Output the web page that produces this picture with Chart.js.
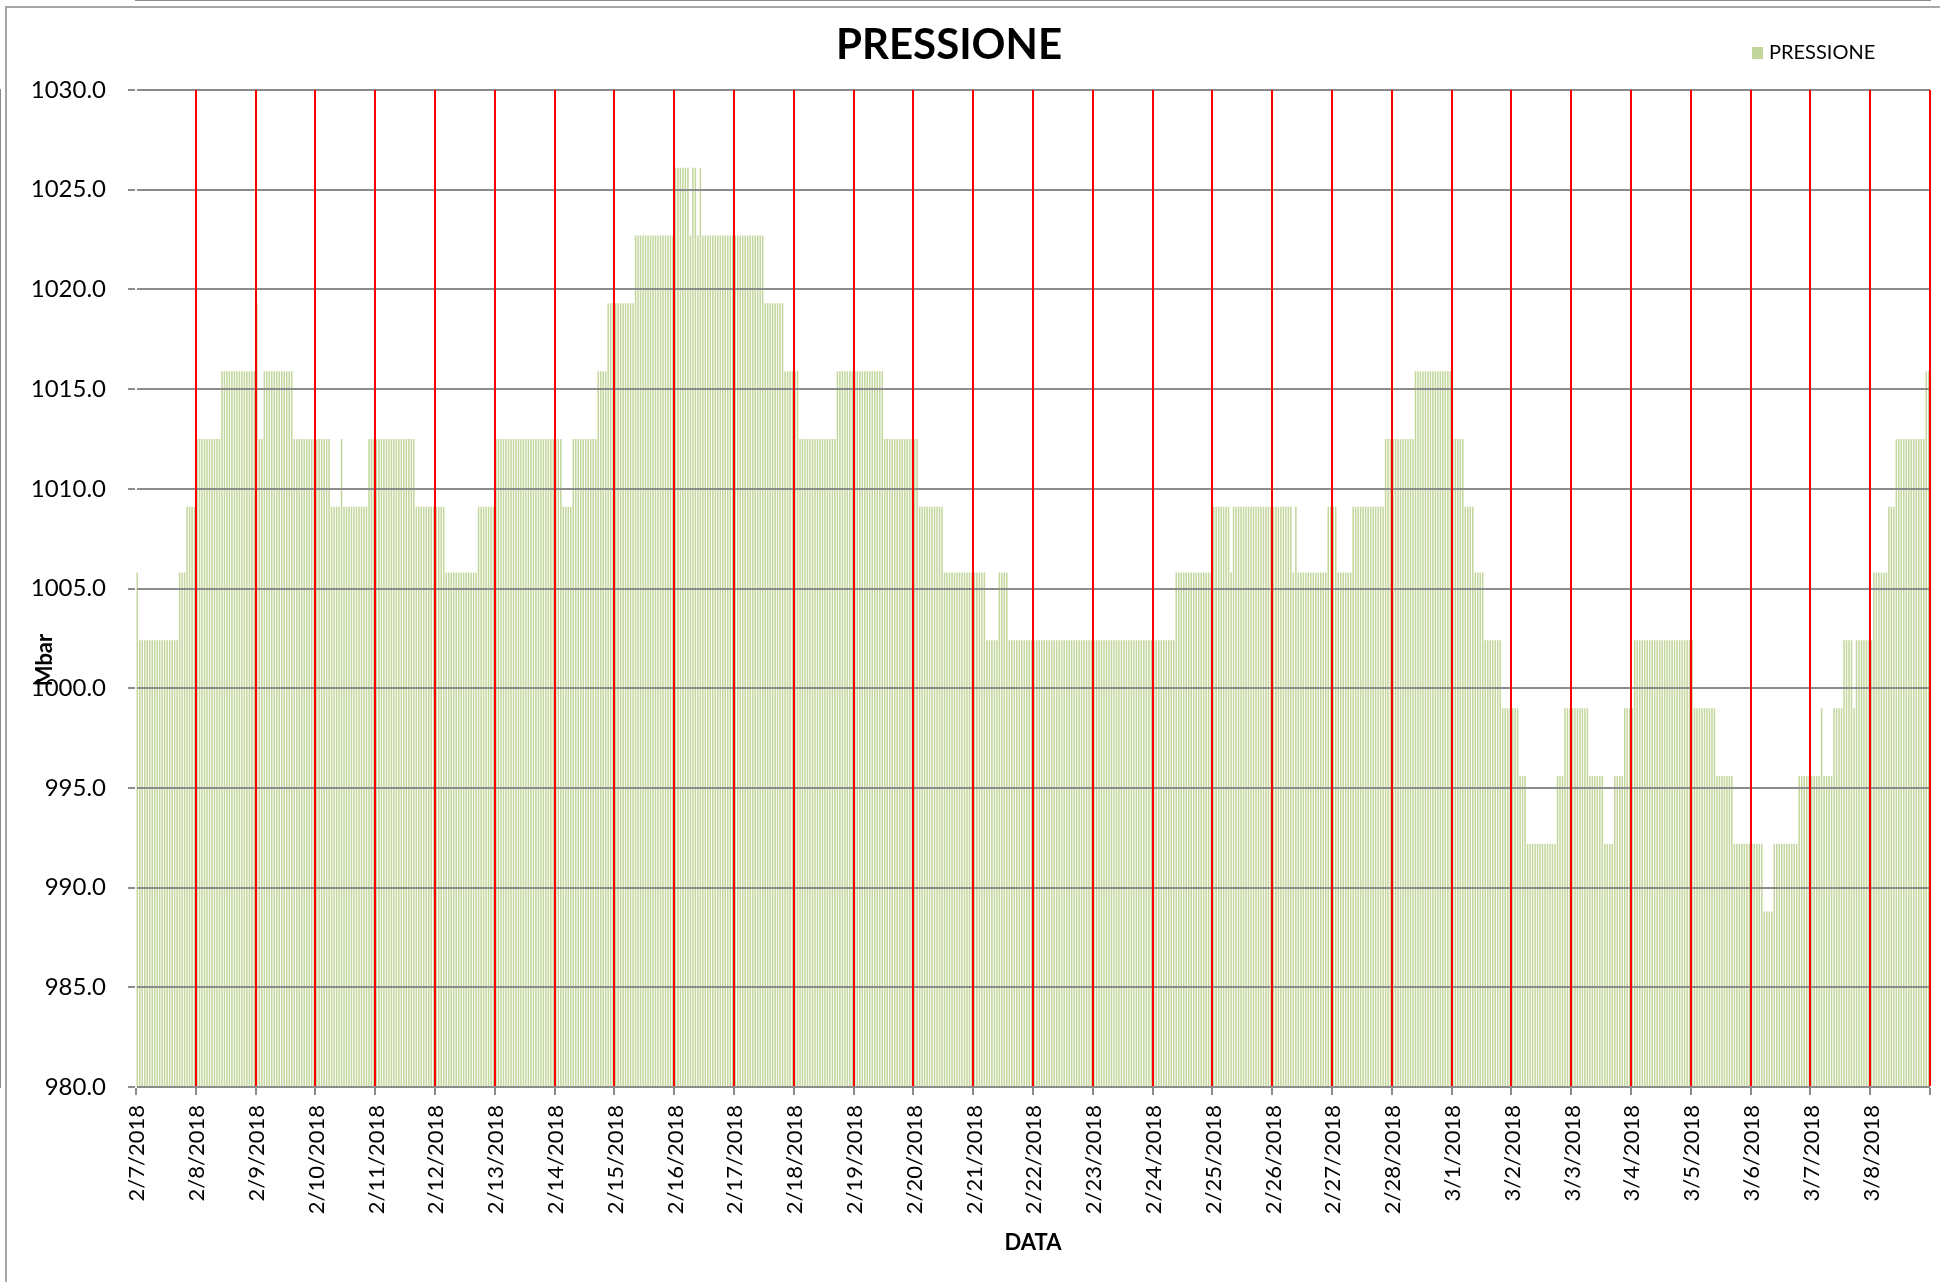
<!DOCTYPE html>
<html>
<head>
<meta charset="utf-8">
<title>PRESSIONE</title>
<script src="https://cdn.jsdelivr.net/npm/chart.js@4.4.1/dist/chart.umd.min.js"></script>
<style>
  html, body { margin: 0; padding: 0; background: #fff; overflow: hidden; }
  #wrap { position: relative; width: 1940px; height: 1282px; }
  #cornice { position: absolute; left: 5px; top: 6px; width: 2000px; height: 2000px;
             border-left: 2px solid #a6a6a6; border-top: 2px solid #a6a6a6; }
  #grafico { position: absolute; left: 0; top: 0; }
</style>
</head>
<body>
<div id="wrap">
  <div id="cornice"></div>
  <canvas id="grafico" width="1940" height="1282"></canvas>
</div>
<script>
// giorni sull'asse X (24 letture orarie per giorno)
const giorni = ['2/7/2018', '2/8/2018', '2/9/2018', '2/10/2018', '2/11/2018', '2/12/2018',
  '2/13/2018', '2/14/2018', '2/15/2018', '2/16/2018', '2/17/2018', '2/18/2018', '2/19/2018',
  '2/20/2018', '2/21/2018', '2/22/2018', '2/23/2018', '2/24/2018', '2/25/2018', '2/26/2018',
  '2/27/2018', '2/28/2018', '3/1/2018', '3/2/2018', '3/3/2018', '3/4/2018', '3/5/2018',
  '3/6/2018', '3/7/2018', '3/8/2018'];

// tacche asse Y (Mbar)
const tacceY = [980, 985, 990, 995, 1000, 1005, 1010, 1015, 1020, 1025, 1030];

// pressione oraria (Mbar), una riga per giorno
const pressioneGiorni = [
  [1005.8,1002.4,1002.4,1002.4,1002.4,1002.4,1002.4,1002.4,1002.4,1002.4,1002.4,1002.4,1002.4,1002.4,1002.4,1002.4,1002.4,1005.8,1005.8,1005.8,1009.1,1009.1,1009.1,1009.1],
  [1012.5,1012.5,1012.5,1012.5,1012.5,1012.5,1012.5,1012.5,1012.5,1012.5,1015.9,1015.9,1015.9,1015.9,1015.9,1015.9,1015.9,1015.9,1015.9,1015.9,1015.9,1015.9,1015.9,1015.9],
  [1019.3,1012.5,1012.5,1015.9,1015.9,1015.9,1015.9,1015.9,1015.9,1015.9,1015.9,1015.9,1015.9,1015.9,1015.9,1012.5,1012.5,1012.5,1012.5,1012.5,1012.5,1012.5,1012.5,1012.5],
  [1012.5,1012.5,1012.5,1012.5,1012.5,1012.5,1009.1,1009.1,1009.1,1009.1,1012.5,1009.1,1009.1,1009.1,1009.1,1009.1,1009.1,1009.1,1009.1,1009.1,1009.1,1012.5,1012.5,1012.5],
  [1012.5,1012.5,1012.5,1012.5,1012.5,1012.5,1012.5,1012.5,1012.5,1012.5,1012.5,1012.5,1012.5,1012.5,1012.5,1012.5,1009.1,1009.1,1009.1,1009.1,1009.1,1009.1,1009.1,1009.1],
  [1009.1,1009.1,1009.1,1009.1,1005.8,1005.8,1005.8,1005.8,1005.8,1005.8,1005.8,1005.8,1005.8,1005.8,1005.8,1005.8,1005.8,1009.1,1009.1,1009.1,1009.1,1009.1,1009.1,1009.1],
  [1012.5,1012.5,1012.5,1012.5,1012.5,1012.5,1012.5,1012.5,1012.5,1012.5,1012.5,1012.5,1012.5,1012.5,1012.5,1012.5,1012.5,1012.5,1012.5,1012.5,1012.5,1012.5,1012.5,1012.5],
  [1012.5,1012.5,1012.5,1009.1,1009.1,1009.1,1009.1,1012.5,1012.5,1012.5,1012.5,1012.5,1012.5,1012.5,1012.5,1012.5,1012.5,1015.9,1015.9,1015.9,1015.9,1019.3,1019.3,1019.3],
  [1019.3,1019.3,1019.3,1019.3,1019.3,1019.3,1019.3,1019.3,1022.7,1022.7,1022.7,1022.7,1022.7,1022.7,1022.7,1022.7,1022.7,1022.7,1022.7,1022.7,1022.7,1022.7,1022.7,1022.7],
  [1026.1,1026.1,1026.1,1026.1,1026.1,1026.1,1022.7,1026.1,1026.1,1022.7,1026.1,1022.7,1022.7,1022.7,1022.7,1022.7,1022.7,1022.7,1022.7,1022.7,1022.7,1022.7,1022.7,1022.7],
  [1022.7,1022.7,1022.7,1022.7,1022.7,1022.7,1022.7,1022.7,1022.7,1022.7,1022.7,1022.7,1019.3,1019.3,1019.3,1019.3,1019.3,1019.3,1019.3,1019.3,1015.9,1015.9,1015.9,1015.9],
  [1015.9,1015.9,1012.5,1012.5,1012.5,1012.5,1012.5,1012.5,1012.5,1012.5,1012.5,1012.5,1012.5,1012.5,1012.5,1012.5,1012.5,1015.9,1015.9,1015.9,1015.9,1015.9,1015.9,1015.9],
  [1015.9,1015.9,1015.9,1015.9,1015.9,1015.9,1015.9,1015.9,1015.9,1015.9,1015.9,1015.9,1012.5,1012.5,1012.5,1012.5,1012.5,1012.5,1012.5,1012.5,1012.5,1012.5,1012.5,1012.5],
  [1012.5,1012.5,1009.1,1009.1,1009.1,1009.1,1009.1,1009.1,1009.1,1009.1,1009.1,1009.1,1005.8,1005.8,1005.8,1005.8,1005.8,1005.8,1005.8,1005.8,1005.8,1005.8,1005.8,1005.8],
  [1005.8,1005.8,1005.8,1005.8,1005.8,1002.4,1002.4,1002.4,1002.4,1002.4,1005.8,1005.8,1005.8,1005.8,1002.4,1002.4,1002.4,1002.4,1002.4,1002.4,1002.4,1002.4,1002.4,1002.4],
  [1002.4,1002.4,1002.4,1002.4,1002.4,1002.4,1002.4,1002.4,1002.4,1002.4,1002.4,1002.4,1002.4,1002.4,1002.4,1002.4,1002.4,1002.4,1002.4,1002.4,1002.4,1002.4,1002.4,1002.4],
  [1002.4,1002.4,1002.4,1002.4,1002.4,1002.4,1002.4,1002.4,1002.4,1002.4,1002.4,1002.4,1002.4,1002.4,1002.4,1002.4,1002.4,1002.4,1002.4,1002.4,1002.4,1002.4,1002.4,1002.4],
  [1002.4,1002.4,1002.4,1002.4,1002.4,1002.4,1002.4,1002.4,1002.4,1005.8,1005.8,1005.8,1005.8,1005.8,1005.8,1005.8,1005.8,1005.8,1005.8,1005.8,1005.8,1005.8,1005.8,1005.8],
  [1009.1,1009.1,1009.1,1009.1,1009.1,1009.1,1009.1,1005.8,1009.1,1009.1,1009.1,1009.1,1009.1,1009.1,1009.1,1009.1,1009.1,1009.1,1009.1,1009.1,1009.1,1009.1,1009.1,1009.1],
  [1009.1,1009.1,1009.1,1009.1,1009.1,1009.1,1009.1,1009.1,1005.8,1009.1,1005.8,1005.8,1005.8,1005.8,1005.8,1005.8,1005.8,1005.8,1005.8,1005.8,1005.8,1005.8,1009.1,1009.1],
  [1009.1,1009.1,1005.8,1005.8,1005.8,1005.8,1005.8,1005.8,1009.1,1009.1,1009.1,1009.1,1009.1,1009.1,1009.1,1009.1,1009.1,1009.1,1009.1,1009.1,1009.1,1012.5,1012.5,1012.5],
  [1012.5,1012.5,1012.5,1012.5,1012.5,1012.5,1012.5,1012.5,1012.5,1015.9,1015.9,1015.9,1015.9,1015.9,1015.9,1015.9,1015.9,1015.9,1015.9,1015.9,1015.9,1015.9,1015.9,1015.9],
  [1012.5,1012.5,1012.5,1012.5,1012.5,1009.1,1009.1,1009.1,1009.1,1005.8,1005.8,1005.8,1005.8,1002.4,1002.4,1002.4,1002.4,1002.4,1002.4,1002.4,999.0,999.0,999.0,999.0],
  [999.0,999.0,999.0,995.6,995.6,995.6,992.2,992.2,992.2,992.2,992.2,992.2,992.2,992.2,992.2,992.2,992.2,992.2,995.6,995.6,995.6,999.0,999.0,999.0],
  [999.0,999.0,999.0,999.0,999.0,999.0,999.0,995.6,995.6,995.6,995.6,995.6,995.6,992.2,992.2,992.2,992.2,995.6,995.6,995.6,995.6,999.0,999.0,999.0],
  [999.0,1002.4,1002.4,1002.4,1002.4,1002.4,1002.4,1002.4,1002.4,1002.4,1002.4,1002.4,1002.4,1002.4,1002.4,1002.4,1002.4,1002.4,1002.4,1002.4,1002.4,1002.4,1002.4,1002.4],
  [1002.4,999.0,999.0,999.0,999.0,999.0,999.0,999.0,999.0,999.0,995.6,995.6,995.6,995.6,995.6,995.6,995.6,992.2,992.2,992.2,992.2,992.2,992.2,992.2],
  [992.2,992.2,992.2,992.2,992.2,988.8,988.8,988.8,988.8,992.2,992.2,992.2,992.2,992.2,992.2,992.2,992.2,992.2,992.2,995.6,995.6,995.6,995.6,995.6],
  [995.6,995.6,995.6,995.6,999.0,995.6,995.6,995.6,995.6,999.0,999.0,999.0,999.0,1002.4,1002.4,1002.4,1002.4,999.0,1002.4,1002.4,1002.4,1002.4,1002.4,1002.4],
  [1002.4,1005.8,1005.8,1005.8,1005.8,1005.8,1005.8,1009.1,1009.1,1009.1,1012.5,1012.5,1012.5,1012.5,1012.5,1012.5,1012.5,1012.5,1012.5,1012.5,1012.5,1012.5,1015.9,1015.9]
];

pressioneGiorni.forEach((g, i) => {
  if (g.length !== 24) throw new Error('giorno ' + giorni[i] + ' ha ' + g.length + ' valori');
});
const pressione = pressioneGiorni.flat();

const ROSSO = '#ff0000';
const GRIGIO = '#8c8c8c';
const VERDE = '#c3d69b';
const TRASP = 'rgba(0,0,0,0)';

Chart.defaults.font.family = 'Lato, "Open Sans", sans-serif';
Chart.defaults.color = '#000';

// etichette orarie: data + ora
const etichette = [];
giorni.forEach(g => {
  for (let h = 0; h < 24; h++) etichette.push(g + ' ' + String(h).padStart(2, '0') + ':00');
});

// titolo, legenda e titolo asse Y
const decorazioni = {
  id: 'decorazioni',
  afterDraw(chart) {
    const ctx = chart.ctx;
    const ds = chart.data.datasets[0];
    ctx.save();
    ctx.fillStyle = '#000';
    ctx.textBaseline = 'middle';

    ctx.font = 'bold 42px Lato';
    ctx.textAlign = 'center';
    ctx.fillText('PRESSIONE', 949, 45);

    // legenda
    ctx.fillStyle = ds.backgroundColor;
    ctx.fillRect(1752, 47, 11, 12);
    ctx.fillStyle = '#000';
    ctx.font = '20px Lato';
    ctx.textAlign = 'left';
    ctx.fillText(ds.label, 1769, 53);

    // titolo asse Y
    ctx.translate(45, 660);
    ctx.rotate(-Math.PI / 2);
    ctx.font = 'bold 22px Lato';
    ctx.textAlign = 'center';
    ctx.fillText('Mbar', 0, 0);
    ctx.restore();
  }
};

new Chart(document.getElementById('grafico'), {
  type: 'bar',
  data: {
    labels: etichette,
    datasets: [{
      label: 'PRESSIONE',
      data: pressione,
      backgroundColor: VERDE,
      borderWidth: 0,
      barPercentage: 0.6,
      categoryPercentage: 1.0
    }]
  },
  options: {
    responsive: false,
    animation: false,
    devicePixelRatio: 1,
    layout: { padding: { left: 0, right: 10, top: 90, bottom: 0 } },
    plugins: {
      legend: { display: false },
      title: { display: false },
      tooltip: { enabled: false }
    },
    scales: {
      x: {
        grid: {
          z: 2,
          offset: true,
          lineWidth: 2,
          tickLength: 8,
          color: ctx => {
            if (ctx.tick === undefined) return ROSSO;
            return (ctx.index % 24 === 0 && ctx.index > 0) ? ROSSO : TRASP;
          },
          tickColor: ctx => (ctx.tick === undefined || ctx.index % 24 === 0) ? GRIGIO : TRASP
        },
        border: { display: true, color: GRIGIO, width: 2 },
        ticks: {
          autoSkip: false,
          minRotation: 90,
          maxRotation: 90,
          padding: 10,
          font: { size: 22 },
          callback: (v, i) => i % 24 === 0 ? giorni[i / 24] : ''
        },
        title: {
          display: true,
          text: 'DATA',
          font: { size: 22, weight: 'bold' },
          padding: { top: 0, bottom: 26 }
        },
        afterFit: s => {
          s.height = 195;
          s.paddingLeft = 0;
          s.paddingRight = 0;
        }
      },
      y: {
        min: tacceY[0],
        max: tacceY[tacceY.length - 1],
        afterBuildTicks: s => { s.ticks = tacceY.map(v => ({ value: v })); },
        grid: { z: 1, color: GRIGIO, lineWidth: 2, tickLength: 8, tickColor: GRIGIO },
        border: { display: true, color: GRIGIO, width: 2 },
        ticks: {
          padding: 22,
          font: { size: 24 },
          callback: v => v.toFixed(1)
        },
        afterFit: s => { s.width = 136; }
      }
    }
  },
  plugins: [decorazioni]
});
</script>
</body>
</html>
